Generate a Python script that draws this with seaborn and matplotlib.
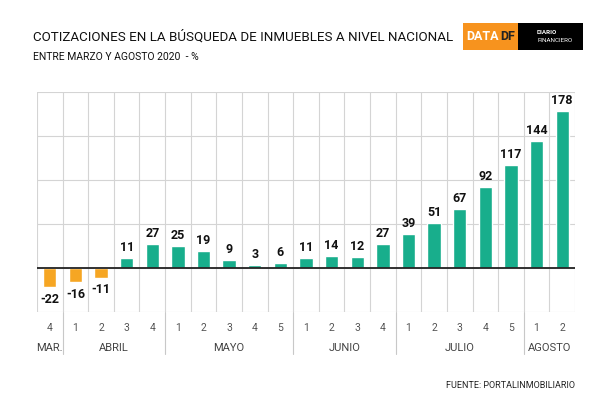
import matplotlib
matplotlib.use("Agg")
import matplotlib.pyplot as plt
import matplotlib.patches as mpatches
import seaborn as sns
import pandas as pd
import numpy as np

weeks = ["4", "1", "2", "3", "4", "1", "2", "3", "4", "5", "1", "2", "3", "4", "1", "2", "3", "4", "5", "1", "2"]
months = ["MAR.", "ABRIL", "MAYO", "JUNIO", "JULIO", "AGOSTO"]
month_sizes = [1, 4, 5, 4, 5, 2]
values = [-22, -16, -11, 11, 27, 25, 19, 9, 3, 6, 11, 14, 12, 27, 39, 51, 67, 92, 117, 144, 178]

sns.set_theme(style="white")
plt.rcParams["font.family"] = ["Roboto", "DejaVu Sans"]

df = pd.DataFrame({
    "idx": list(range(len(values))),
    "value": values,
    "sign": ["neg" if v < 0 else "pos" for v in values],
})

ORANGE = "#F6A623"
TEAL = "#18AE8C"

fig = plt.figure(figsize=(6, 4), dpi=100)
ax = fig.add_axes([37/600, 1-312/400, (575-37)/600, (312-92)/400])

sns.barplot(data=df, x="idx", y="value", hue="sign", palette={"neg": ORANGE, "pos": TEAL},
            dodge=False, width=0.52, legend=False, ax=ax, order=list(range(len(values))),
            hue_order=["neg", "pos"], saturation=1)

n = len(values)
ax.set_xlim(-0.5, n - 0.5)
ax.set_ylim(-50, 200)
ax.set_yticks([-50, 0, 50, 100, 150, 200])
ax.set_yticklabels([])
ax.tick_params(axis="y", length=0)
ax.yaxis.grid(True, color="#d4d4d4", linewidth=0.8)
for b in np.arange(-0.5, n, 1.0):
    ax.axvline(b, color="#d4d4d4", linewidth=0.8, zorder=0)
ax.set_axisbelow(True)
for s in ax.spines.values():
    s.set_visible(False)
ax.axhline(0, color="#222222", linewidth=1.3, zorder=3)

ax.set_xticks(range(n))
ax.set_xticklabels(weeks, fontsize=7.5, color="#555555")
ax.tick_params(axis="x", length=0, pad=8)
ax.set_xlabel("")
ax.set_ylabel("")

# value labels
for i, v in enumerate(values):
    if v >= 0:
        ax.annotate(str(v), (i, v), xytext=(0, 3), textcoords="offset points",
                    ha="center", va="bottom", fontsize=9, fontweight="bold", color="#111111")
    else:
        ax.annotate(str(v), (i, v), xytext=(0, -4), textcoords="offset points",
                    ha="center", va="top", fontsize=9, fontweight="bold", color="#111111")

# month labels and separators
trans = ax.get_xaxis_transform()
start = 0
for m, sz in zip(months, month_sizes):
    center = start + (sz - 1) / 2
    ax.text(center, -36/220, m, transform=trans, ha="center", va="center",
            fontsize=8, color="#444444")
    end = start + sz
    if end < n:
        ax.plot([end - 0.5, end - 0.5], [0, -42/220], transform=trans, color="#c8c8c8",
                linewidth=0.8, clip_on=False)
    start = end

# title
fig.text(33/600, 1-37/400, "COTIZACIONES EN LA BÚSQUEDA DE INMUEBLES A NIVEL NACIONAL",
         fontsize=9.6, color="#111111", va="center", ha="left")
fig.text(33/600, 1-57/400, "ENTRE MARZO Y AGOSTO 2020  - %", fontsize=7.5, color="#111111",
         va="center", ha="left")

# logo
fig.patches.append(mpatches.Rectangle((463/600, 1-50/400), 55/600, 27/400, transform=fig.transFigure,
                                      facecolor="#F7931E", edgecolor="none"))
fig.patches.append(mpatches.Rectangle((518/600, 1-50/400), 65/600, 27/400, transform=fig.transFigure,
                                      facecolor="#000000", edgecolor="none"))
fig.text(466/600, 1-37/400, "DATA", fontsize=9, fontweight="bold", color="white", va="center", ha="left")
fig.text(500/600, 1-37/400, "DF", fontsize=9, fontweight="bold", color="#222222", va="center", ha="left")
fig.text(537/600, 1-33/400, "DIARIO", fontsize=4.5, fontweight="bold", color="white", va="center", ha="left")
fig.text(537/600, 1-41/400, "FINANCIERO", fontsize=4.5, color="white", va="center", ha="left")

# source
fig.text(575/600, 1-385/400, "FUENTE: PORTALINMOBILIARIO", fontsize=6.5, color="#222222",
         ha="right", va="center")

fig.savefig("out.png", dpi=100, facecolor="white")
